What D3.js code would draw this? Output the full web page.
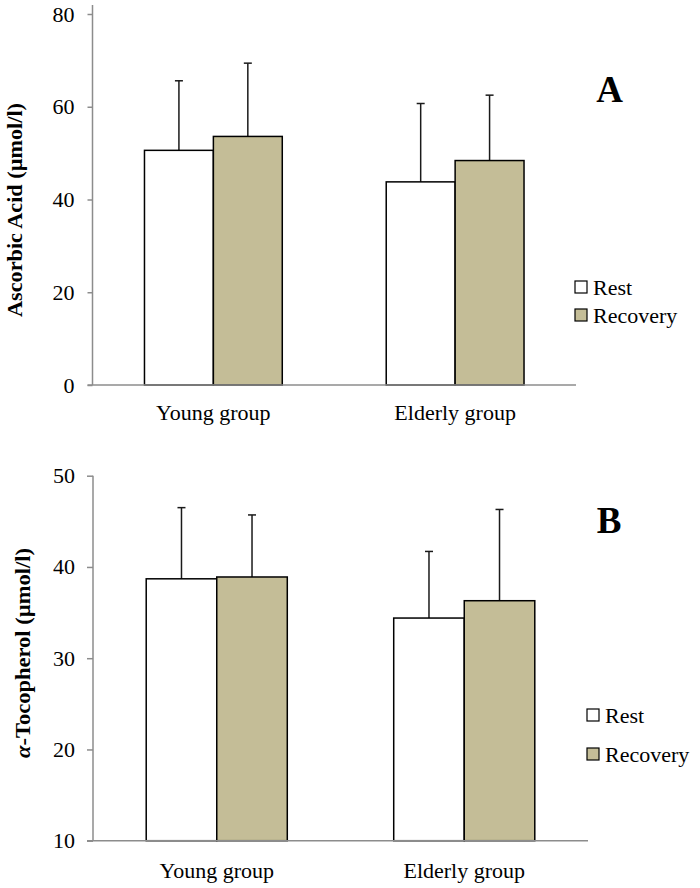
<!DOCTYPE html>
<html>
<head>
<meta charset="utf-8">
<script src="https://cdn.jsdelivr.net/npm/d3@7"></script>
<style>
  html, body { margin: 0; padding: 0; background: #fff; }
  svg { display: block; }
</style>
</head>
<body>
<svg id="chart" width="700" height="888"></svg>
<script>
// ---- Data ----
const groups = ["Young group", "Elderly group"];
const seriesNames = ["Rest", "Recovery"];
const seriesColors = ["#ffffff", "#c4bd97"];

// Panel A: Ascorbic Acid (µmol/l)
const ascorbicMean = [[50.6, 53.6], [43.8, 48.4]];
const ascorbicSD   = [[15.0, 15.8], [16.9, 14.1]];
const ascorbicTicks = [0, 20, 40, 60, 80];

// Panel B: α-Tocopherol (µmol/l)
const tocoMean = [[38.7, 38.9], [34.4, 36.3]];
const tocoSD   = [[7.8, 6.8], [7.3, 10.0]];
const tocoTicks = [10, 20, 30, 40, 50];

const FONT = "'Liberation Serif', 'Times New Roman', Times, serif";
const svg = d3.select("#chart");

function panel(cfg) {
  const g = svg.append("g");
  const y = d3.scaleLinear().domain(cfg.domain).range([cfg.yBottom, cfg.yTop]);
  const x0 = d3.scaleBand().domain(groups).range([cfg.xLeft, cfg.xRight])
    .paddingInner(0.43).paddingOuter(0.215);
  const x1 = d3.scaleBand().domain(seriesNames).range([0, x0.bandwidth()]);

  // y axis
  const yAxis = d3.axisLeft(y).tickValues(cfg.ticks).tickSize(cfg.tickLen).tickPadding(cfg.tickPad);
  const ya = g.append("g").attr("transform", `translate(${cfg.xLeft},0)`).call(yAxis);
  ya.attr("font-family", null);
  ya.select(".domain").remove();
  ya.selectAll(".tick line").attr("stroke", "#8c8c8c").attr("stroke-width", 1.5);
  ya.selectAll(".tick text").style("font-family", FONT).style("font-size", "22px").attr("fill", "#000");
  g.append("line")
    .attr("x1", cfg.xLeft).attr("x2", cfg.xLeft)
    .attr("y1", cfg.yTop - cfg.axisOver).attr("y2", cfg.yBottom)
    .attr("stroke", "#8c8c8c").attr("stroke-width", 1.5);

  // bars
  groups.forEach((grp, gi) => {
    seriesNames.forEach((s, si) => {
      const bx = x0(grp) + x1(s);
      const m = cfg.mean[gi][si];
      const sd = cfg.sd[gi][si];
      const cx = bx + x1.bandwidth() / 2;
      g.append("line")
        .attr("x1", cx).attr("x2", cx)
        .attr("y1", y(m)).attr("y2", y(m + sd))
        .attr("stroke", "#1a1a1a").attr("stroke-width", 1.5);
      g.append("line")
        .attr("x1", cx - 4).attr("x2", cx + 4)
        .attr("y1", y(m + sd)).attr("y2", y(m + sd))
        .attr("stroke", "#1a1a1a").attr("stroke-width", 1.5);
      g.append("rect")
        .attr("x", bx).attr("y", y(m))
        .attr("width", x1.bandwidth()).attr("height", y(cfg.domain[0]) - y(m))
        .attr("fill", seriesColors[si]).attr("stroke", "#000").attr("stroke-width", 1.5);
    });
    g.append("text")
      .attr("x", x0(grp) + x0.bandwidth() / 2)
      .attr("y", cfg.yBottom + cfg.catOffset)
      .attr("text-anchor", "middle")
      .style("font-family", FONT).style("font-size", "22px")
      .text(grp);
  });
  // x axis baseline
  g.append("line")
    .attr("x1", cfg.xLeft - cfg.tickLen).attr("x2", cfg.xRight)
    .attr("y1", cfg.yBottom).attr("y2", cfg.yBottom)
    .attr("stroke", "#8c8c8c").attr("stroke-width", 1.5);

  // y title
  const t = g.append("text")
    .attr("transform", `translate(${cfg.titleX},${cfg.titleY}) rotate(-90)`)
    .attr("text-anchor", "middle")
    .style("font-family", FONT).style("font-size", "22px").style("font-weight", "bold")
    .attr("textLength", cfg.titleLen).attr("lengthAdjust", "spacingAndGlyphs");
  if (cfg.titleItalic) {
    t.append("tspan").style("font-style", "italic").text(cfg.titleItalic);
  }
  t.append("tspan").text(cfg.title);

  // panel letter
  g.append("text")
    .attr("x", cfg.letterX).attr("y", cfg.letterY)
    .attr("text-anchor", "middle")
    .style("font-family", FONT).style("font-size", "37px").style("font-weight", "bold")
    .text(cfg.letter);

  // legend
  seriesNames.forEach((s, si) => {
    const ly = cfg.legY[si];
    g.append("rect")
      .attr("x", cfg.legX).attr("y", ly - 14)
      .attr("width", 12).attr("height", 12)
      .attr("fill", seriesColors[si]).attr("stroke", "#000").attr("stroke-width", 1.2);
    g.append("text")
      .attr("x", cfg.legX + 18).attr("y", ly)
      .style("font-family", FONT).style("font-size", "22px")
      .text(s);
  });
}

panel({
  domain: [0, 80], ticks: ascorbicTicks, mean: ascorbicMean, sd: ascorbicSD,
  yTop: 14, yBottom: 385, xLeft: 92.5, xRight: 576, axisOver: 9,
  tickLen: 5, tickPad: 13, catOffset: 35,
  title: "Ascorbic Acid (µmol/l)", titleX: 22, titleY: 210, titleLen: 214,
  letter: "A", letterX: 609.5, letterY: 102,
  legX: 575, legY: [295, 323]
});

panel({
  domain: [10, 50], ticks: tocoTicks, mean: tocoMean, sd: tocoSD,
  yTop: 475.7, yBottom: 840.7, xLeft: 93, xRight: 588, axisOver: 0,
  tickLen: 6, tickPad: 12, catOffset: 37,
  titleItalic: "α", title: "-Tocopherol (µmol/l)", titleX: 30, titleY: 653, titleLen: 210,
  letter: "B", letterX: 609, letterY: 533,
  legX: 587, legY: [723, 762]
});
</script>
</body>
</html>
